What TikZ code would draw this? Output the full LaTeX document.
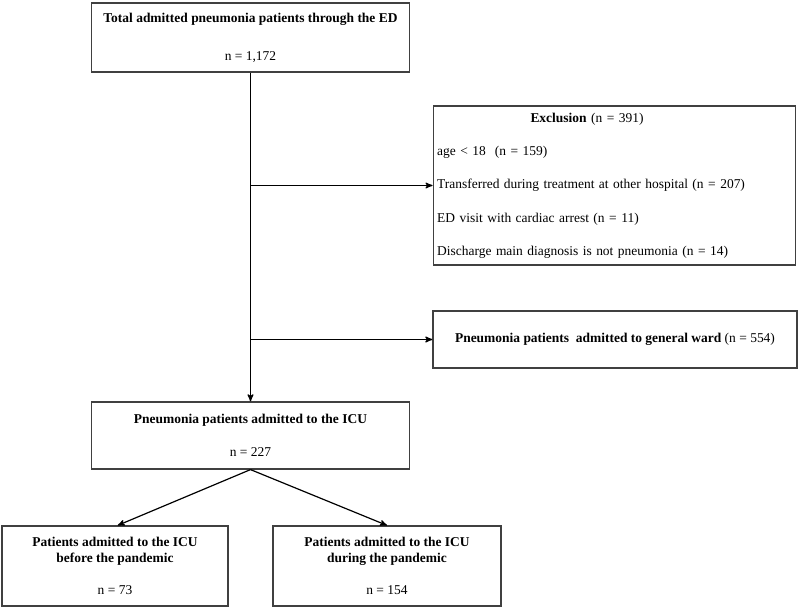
\documentclass[tikz,border=0pt]{standalone}
\usepackage{fontspec}
\setmainfont{Liberation Serif}
\usetikzlibrary{arrows}

\begin{document}
\begin{tikzpicture}[->,>=stealth',x=0.75pt,y=-0.75pt,line width=0.9pt,
  main node/.style={draw=black!75,inner sep=0pt,align=center,font=\fontsize{10.1}{12}\selectfont}]

  \useasboundingbox (0,0) rectangle (800,609);

  \node[main node,minimum width=238.5pt,minimum height=51.75pt] (1) at (250.5,37.5)
    {\textbf{Total admitted pneumonia patients through the ED}\\[16.5pt]n = 1,172};
  \node[main node,text width=266pt,inner xsep=3pt,minimum height=119.25pt,align=left] (2) at (614.5,185.5)
    {\hspace*{70pt}\textbf{Exclusion} (n = 391)\\[13pt]
     age < 18\ \ (n = 159)\\[13pt]
     Transferred during treatment at other hospital (n = 207)\\[13pt]
     ED visit with cardiac arrest (n = 11)\\[13pt]
     Discharge main diagnosis is not pneumonia (n = 14)};
  \node[main node,minimum width=273pt,minimum height=42.75pt] (3) at (615,339.5)
    {\textbf{Pneumonia patients\ \ admitted to general ward} (n = 554)};
  \node[main node,minimum width=238.5pt,minimum height=50.25pt] (4) at (250.5,435.5)
    {\textbf{Pneumonia patients admitted to the ICU}\\[12.5pt]n = 227};
  \node[main node,minimum width=169.5pt,minimum height=60pt] (5) at (115,566)
    {\textbf{Patients admitted to the ICU}\\\textbf{before the pandemic}\\[12pt]n = 73};
  \node[main node,minimum width=171pt,minimum height=60pt] (6) at (387,566)
    {\textbf{Patients admitted to the ICU}\\\textbf{during the pandemic}\\[12pt]n = 154};

  \coordinate (a) at (250.5,185.5);
  \coordinate (b) at (250.5,339.5);
  \path (1) edge (4)
    (a) edge (2)
    (b) edge (3)
    (4.south) edge ([xshift=2pt]5.north)
    (4.south) edge (6.north)
    ;

\end{tikzpicture}
\end{document}
